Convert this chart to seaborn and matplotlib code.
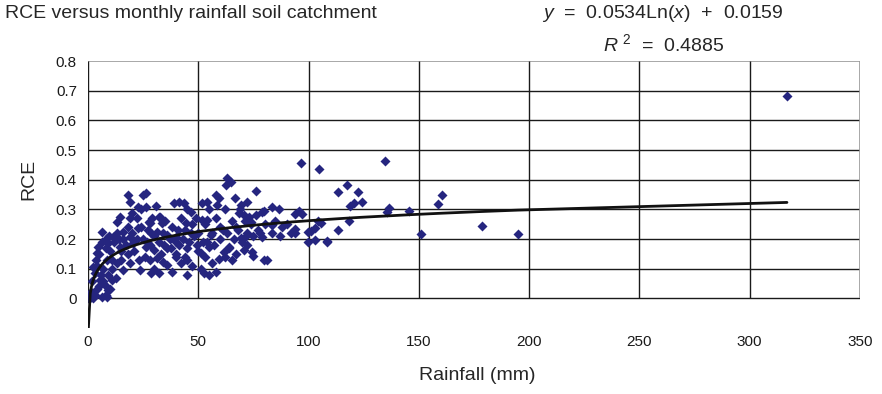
import numpy as np
import pandas as pd
import matplotlib
matplotlib.use("Agg")
import matplotlib.pyplot as plt
import seaborn as sns

# monthly rainfall (mm) and runoff coefficient
rainfall = [
    316.9, 195.0, 178.6, 160.5, 158.7, 151.2, 145.5, 134.6, 135.4, 136.4,
    113.4, 117.3, 122.5, 124.0, 118.8, 120.6, 118.5, 113.5, 108.5, 105.5,
    96.6, 104.6, 79.6, 83.4, 86.4, 94.0, 95.8, 97.0, 80.4, 83.4,
    87.9, 83.4, 87.2, 94.0, 94.0, 99.7, 101.2, 103.0, 104.5, 99.7,
    103.0, 108.3, 81.1,
    63.2, 64.7, 62.4, 76.0, 57.9, 59.4, 66.5, 54.1, 69.2, 72.2,
    68.4, 70.7, 73.0, 79.0, 65.4, 73.7, 58.6, 54.1, 61.0, 55.6,
    54.1, 54.9, 63.9, 61.6, 69.2, 71.4, 72.2, 74.5, 70.7, 65.4,
    59.4, 54.9, 79.8, 79.0, 75.0,
    26.1, 26.1, 41.3, 43.5, 46.5, 51.8, 27.7, 32.2, 33.7, 44.3,
    51.8, 28.4, 31.4, 35.9, 39.7, 46.5, 26.1, 29.9, 34.5, 37.5,
    41.3, 45.0, 49.5, 51.0, 31.4, 35.9, 39.7, 45.0, 28.4, 32.2,
    45.0, 52.6,
    18.3, 25.1, 19.0, 22.8, 14.5, 13.0, 19.8, 28.1, 32.6, 6.2,
    8.5, 11.5, 16.0, 19.0, 22.8, 4.7, 9.2, 14.5, 20.5, 26.6,
    3.9, 8.5, 16.0, 19.0, 23.6, 28.1, 34.1, 2.4, 3.2, 5.4,
    7.7, 9.2, 10.7, 6.2, 0.1, 2.4, 8.5,
    1.0, 1.5, 3.0, 4.0, 5.0, 6.0, 7.0, 3.5, 5.0, 6.5,
    8.0, 9.5, 10.0, 11.0, 12.0, 13.0, 14.0, 15.0, 7.0, 9.0,
    11.0, 12.5, 10.0, 8.0, 4.0, 2.0, 13.0, 15.0, 16.0, 17.0,
    18.0, 18.0, 19.0, 20.0, 21.0, 22.0, 22.0, 23.0, 24.0, 24.0,
    25.0, 26.0, 27.0, 28.0, 29.0, 30.0, 30.0, 31.0, 32.0, 33.0,
    34.0, 35.0, 36.0, 37.0, 38.0, 38.0, 39.0, 40.0, 40.0, 41.0,
    42.0, 42.0, 43.0, 44.0, 44.0, 45.0, 46.0, 47.0, 47.0, 48.0,
    49.0, 50.0, 50.0, 51.0, 52.0, 53.0, 53.0, 55.0, 56.0, 56.0,
    57.0, 58.0, 58.0, 60.0, 60.0, 62.0, 62.0, 63.0, 64.0, 66.0,
    67.0, 67.0, 68.0, 69.0, 70.0, 71.0, 72.0, 74.0, 75.0, 76.0,
    77.0, 78.0, 85.0, 90.0, 92.0,
]
rce = [
    0.682, 0.217, 0.244, 0.348, 0.318, 0.217, 0.294, 0.464, 0.292, 0.304,
    0.358, 0.382, 0.358, 0.326, 0.312, 0.320, 0.261, 0.230, 0.193, 0.255,
    0.458, 0.436, 0.294, 0.309, 0.301, 0.283, 0.294, 0.283, 0.250, 0.247,
    0.241, 0.219, 0.210, 0.234, 0.219, 0.225, 0.228, 0.236, 0.261, 0.191,
    0.197, 0.191, 0.129,
    0.405, 0.393, 0.382, 0.363, 0.348, 0.340, 0.337, 0.326, 0.315, 0.326,
    0.287, 0.281, 0.275, 0.292, 0.261, 0.258, 0.315, 0.264, 0.230, 0.213,
    0.191, 0.174, 0.174, 0.157, 0.202, 0.208, 0.180, 0.157, 0.163, 0.129,
    0.131, 0.079, 0.129, 0.208, 0.143,
    0.354, 0.309, 0.326, 0.320, 0.292, 0.320, 0.258, 0.275, 0.253, 0.253,
    0.264, 0.219, 0.225, 0.213, 0.208, 0.219, 0.174, 0.163, 0.180, 0.169,
    0.180, 0.169, 0.180, 0.152, 0.135, 0.112, 0.140, 0.129, 0.084, 0.084,
    0.079, 0.084,
    0.348, 0.348, 0.326, 0.309, 0.275, 0.258, 0.287, 0.253, 0.275, 0.225,
    0.202, 0.208, 0.225, 0.208, 0.236, 0.174, 0.185, 0.174, 0.185, 0.191,
    0.152, 0.129, 0.095, 0.118, 0.095, 0.129, 0.123, 0.107, 0.084, 0.062,
    0.045, 0.028, 0.062, 0.005, 0.000, 0.000, 0.005,
    0.000, 0.020, 0.010, 0.030, 0.040, 0.080, 0.100, 0.130, 0.150, 0.190,
    0.170, 0.210, 0.160, 0.130, 0.190, 0.220, 0.200, 0.160, 0.060, 0.080,
    0.100, 0.070, 0.030, 0.010, 0.110, 0.060, 0.120, 0.130, 0.200, 0.180,
    0.240, 0.150, 0.270, 0.220, 0.160, 0.200, 0.270, 0.130, 0.240, 0.300,
    0.200, 0.140, 0.230, 0.180, 0.270, 0.210, 0.100, 0.310, 0.190, 0.150,
    0.220, 0.260, 0.170, 0.200, 0.240, 0.090, 0.320, 0.190, 0.150, 0.230,
    0.120, 0.270, 0.200, 0.140, 0.230, 0.300, 0.190, 0.250, 0.110, 0.210,
    0.270, 0.160, 0.220, 0.100, 0.190, 0.250, 0.140, 0.300, 0.220, 0.120,
    0.180, 0.270, 0.090, 0.200, 0.240, 0.140, 0.300, 0.220, 0.170, 0.200,
    0.240, 0.150, 0.230, 0.300, 0.190, 0.260, 0.220, 0.250, 0.210, 0.280,
    0.230, 0.220, 0.260, 0.250, 0.220,
]

# log trendline from the chart label
fit_a, fit_b = 0.0534, 0.0159
x_ticks = [0, 50, 100, 150, 200, 250, 300, 350]
y_ticks = [0, 0.1, 0.2, 0.3, 0.4, 0.5, 0.6, 0.7, 0.8]

df = pd.DataFrame({"rainfall": rainfall, "rce": rce})

sns.set_theme(style="white")
plt.rcParams["font.family"] = ["Liberation Sans", "DejaVu Sans"]
plt.rcParams["mathtext.fontset"] = "custom"
plt.rcParams["mathtext.rm"] = "Liberation Sans"
plt.rcParams["mathtext.it"] = "Liberation Sans:italic"

fig = plt.figure(figsize=(8.82, 3.94), dpi=100)
ax = fig.add_axes([0.0998, 0.1675, 0.8752, 0.6775])

grid_col = "#1a1a1a"
edge_col = "#9a9a9a"
ax.hlines(y_ticks[:-1], 0, 350, color=grid_col, lw=1.0, zorder=1)
ax.hlines(y_ticks[-1], 0, 350, color=edge_col, lw=1.2, zorder=1)
ax.vlines(x_ticks[:-1], 0, 0.8, color=grid_col, lw=1.0, zorder=1)
ax.vlines(x_ticks[-1], 0, 0.8, color=edge_col, lw=1.2, zorder=1)

sns.scatterplot(data=df, x="rainfall", y="rce", marker="D", s=26,
                color="#25257f", linewidth=0, ax=ax, zorder=3)

trend = df[df["rainfall"] > 0].sort_values("rainfall")
trend = trend.assign(fit=fit_a * np.log(trend["rainfall"]) + fit_b)
ax.plot(trend["rainfall"], trend["fit"], color="#111111", lw=2.0, zorder=4)

ax.set_xlim(0, 350)
ax.set_ylim(-0.1, 0.8)
ax.set_xticks(x_ticks)
ax.set_xticklabels([str(v) for v in x_ticks])
ax.set_yticks(y_ticks)
ax.set_yticklabels(["0" if v == 0 else f"{v:g}" for v in y_ticks])
ax.tick_params(axis="both", length=0, labelsize=11, colors="#1a1a1a")
ax.tick_params(axis="x", pad=5)
ax.tick_params(axis="y", pad=8)
for sp in ax.spines.values():
    sp.set_visible(False)

ax.set_xlabel("Rainfall (mm)", fontsize=14)
ax.set_ylabel("RCE", fontsize=14)
ax.xaxis.set_label_coords(0.504, -0.147)
ax.yaxis.set_label_coords(-0.066, 0.5556)

fig.text(5 / 882, 1 - 14 / 394, "RCE versus monthly rainfall soil catchment",
         ha="left", va="center", fontsize=14)
fig.text(542 / 882, 1 - 14 / 394, "$y$  =  0.0534Ln$(x)$  +  0.0159",
         ha="left", va="center", fontsize=14)
fig.text(603 / 882, 1 - 44 / 394, "$R^{\\ 2}$  =  0.4885",
         ha="left", va="center", fontsize=14)

fig.savefig("out.png", dpi=100)
